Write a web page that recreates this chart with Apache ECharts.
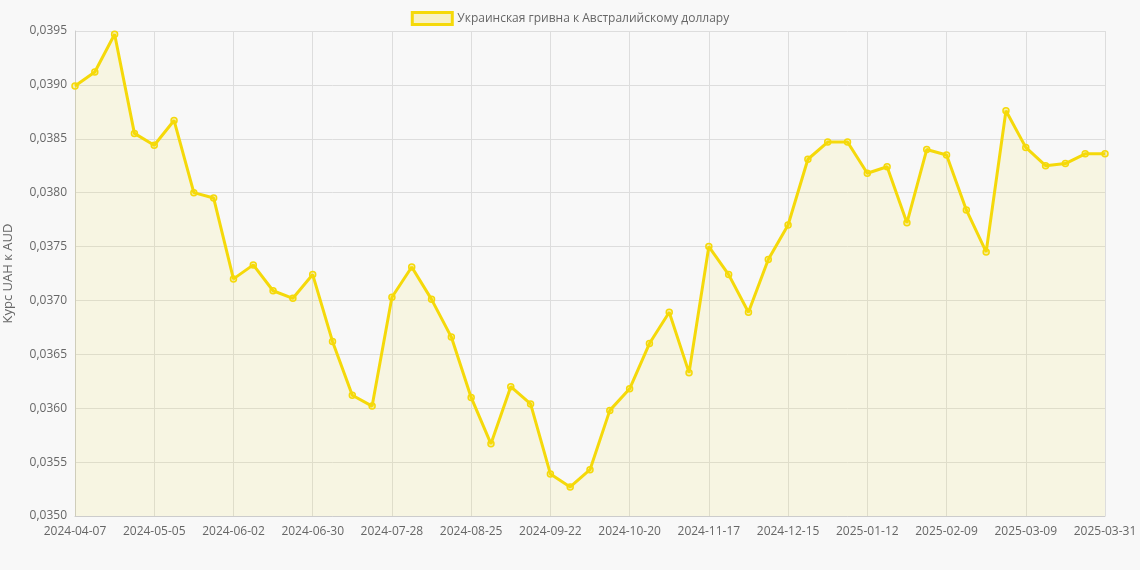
<!DOCTYPE html>
<html><head><meta charset="utf-8">
<script src="https://cdn.jsdelivr.net/npm/echarts@6/dist/echarts.min.js"></script>
<style>html,body{margin:0;background:#f8f8f8}#c{width:1140px;height:570px}</style>
</head><body><div id="c"></div>
<script>
const seriesName = 'Украинская гривна к Австралийскому доллару';
const yTicks = { min: 0.0350, max: 0.0395, interval: 0.0005 };
const dates = [];
for (let i = 0; i < 53; i++) {
  const d = new Date(Date.UTC(2024, 3, 7 + 7 * i));
  dates.push(d.toISOString().slice(0, 10));
}
dates[52] = '2025-03-31';
const rates = [
  0.03899, 0.03912, 0.03947, 0.03855, 0.03844, 0.03867, 0.03800, 0.03795, 0.03720, 0.03733,
  0.03709, 0.03702, 0.03724, 0.03662, 0.03612, 0.03602, 0.03703, 0.03731, 0.03701, 0.03666,
  0.03610, 0.03567, 0.03620, 0.03604, 0.03539, 0.03527, 0.03543, 0.03598, 0.03618, 0.03660,
  0.03689, 0.03633, 0.03750, 0.03724, 0.03689, 0.03738, 0.03770, 0.03831, 0.03847, 0.03847,
  0.03818, 0.03824, 0.03772, 0.03840, 0.03835, 0.03784, 0.03745, 0.03876, 0.03842, 0.03825,
  0.03827, 0.03836, 0.03836
];
const chart = echarts.init(document.getElementById('c'));
const gold = '#f5d90a';
chart.setOption({
  backgroundColor: '#f8f8f8',
  animation: false,
  textStyle: { fontFamily: 'Open Sans, Arial' },
  legend: {
    top: 6, itemWidth: 40, itemHeight: 12, textStyle: { fontSize: 12, color: '#666' },
    data: [{ name: seriesName, icon: 'rect', itemStyle: { color: 'rgba(245,217,10,0.2)', borderColor: gold, borderWidth: 3 } }]
  },
  grid: { left: 75, right: 35, top: 31, bottom: 54, containLabel: false, outerBoundsMode: 'none' },
  xAxis: {
    type: 'category', data: dates, boundaryGap: false,
    axisLine: { lineStyle: { color: '#ccc' } }, axisTick: { show: false },
    axisLabel: { interval: 3, color: '#666', fontSize: 12, margin: 10 },
    splitLine: { show: true, interval: 3, lineStyle: { color: '#ddd' } }
  },
  yAxis: {
    type: 'value', min: yTicks.min, max: yTicks.max, interval: yTicks.interval,
    name: 'Курс UAH к AUD', nameLocation: 'middle', nameGap: 60,
    nameTextStyle: { color: '#666', fontSize: 13 },
    axisLine: { show: true, lineStyle: { color: '#ccc' } },
    axisLabel: { color: '#666', fontSize: 12, formatter: v => v.toFixed(4).replace('.', ',') },
    splitLine: { lineStyle: { color: '#ddd' } }
  },
  series: [{
    name: seriesName, type: 'line', data: rates,
    symbol: 'circle', symbolSize: 6,
    lineStyle: { color: gold, width: 3 },
    itemStyle: { color: 'rgba(245,217,10,0.3)', borderColor: gold, borderWidth: 1.5 },
    areaStyle: { color: 'rgba(245,217,10,0.13)' }
  }]
});
</script></body></html>
